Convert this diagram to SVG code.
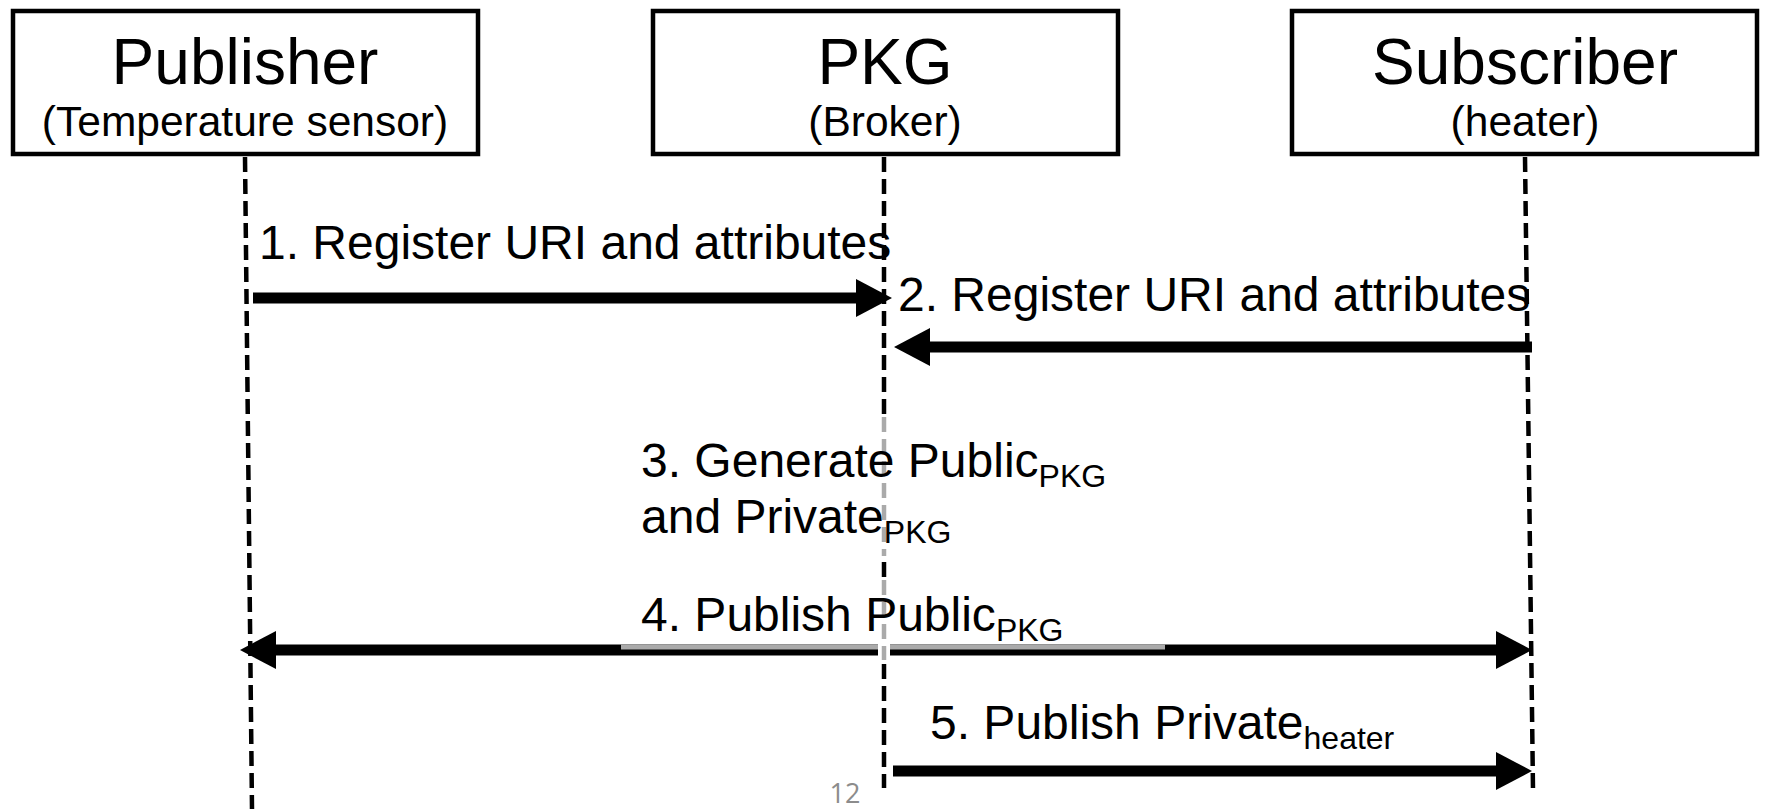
<svg xmlns="http://www.w3.org/2000/svg" width="1766" height="809" viewBox="0 0 1766 809">
  <style>
    .box { fill: #ffffff; stroke: #000000; stroke-width: 4.5; }
    .title { font-family: "Liberation Sans", Arial, sans-serif; font-size: 64px; fill: #000000; text-anchor: middle; }
    .role { font-family: "Liberation Sans", Arial, sans-serif; font-size: 42.5px; fill: #000000; text-anchor: middle; }
    .life { stroke: #000000; stroke-width: 4.5; stroke-dasharray: 15 7; fill: none; }
    .life-dim { stroke: #aaaaaa; stroke-width: 4.5; stroke-dasharray: 15 7; fill: none; }
    .msg { stroke: #000000; stroke-width: 11; fill: none; }
    .label { font-family: "Liberation Sans", Arial, sans-serif; font-size: 48px; fill: #000000; }
    .sub { font-size: 32px; }
    .page { font-family: "Open Sans", "Liberation Sans", sans-serif; font-size: 27px; fill: #8c8c8c; text-anchor: middle; }
  </style>
  <defs>
    <marker id="head" viewBox="0 0 36 38" markerWidth="36" markerHeight="38" refX="1" refY="19" markerUnits="userSpaceOnUse" orient="auto-start-reverse">
      <path d="M0,0 L36,19 L0,38 Z" fill="#000000"/>
    </marker>
  </defs>

  <rect width="1766" height="809" fill="#ffffff"/>

  <!-- lifelines -->
  <g id="lifelines">
    <line class="life" x1="245" y1="157" x2="252" y2="809"/>
    <line class="life" x1="884" y1="157" x2="884" y2="417"/>
    <line class="life-dim" x1="884" y1="417" x2="884" y2="556"/>
    <line class="life" x1="884" y1="562" x2="884" y2="578"/>
    <line class="life-dim" x1="884" y1="580" x2="884" y2="660"/>
    <line class="life" x1="884" y1="664" x2="884" y2="788"/>
    <line class="life" x1="1525" y1="157" x2="1533" y2="790"/>
  </g>

  <!-- participants -->
  <g id="publisher">
    <rect class="box" x="13" y="11" width="465" height="143"/>
    <text class="title" x="245" y="84">Publisher</text>
    <text class="role" x="245" y="136">(Temperature sensor)</text>
  </g>
  <g id="pkg">
    <rect class="box" x="653" y="11" width="465" height="143"/>
    <text class="title" x="885" y="84">PKG</text>
    <text class="role" x="885" y="136">(Broker)</text>
  </g>
  <g id="subscriber">
    <rect class="box" x="1292" y="11" width="465" height="143"/>
    <text class="title" x="1525" y="84">Subscriber</text>
    <text class="role" x="1525" y="136">(heater)</text>
  </g>

  <!-- messages -->
  <g id="connectors">
    <line class="msg" x1="253" y1="298" x2="857" y2="298" marker-end="url(#head)"/>
    <line class="msg" x1="1532" y1="347" x2="929" y2="347" marker-end="url(#head)"/>
    <line class="msg" x1="878" y1="650" x2="275" y2="650" marker-end="url(#head)"/>
    <line class="msg" x1="890" y1="650" x2="1497" y2="650" marker-end="url(#head)"/>
    <line x1="621" y1="647" x2="878" y2="647" stroke="#aaaaaa" stroke-width="5"/>
    <line x1="890" y1="647" x2="1165" y2="647" stroke="#aaaaaa" stroke-width="5"/>
    <line class="msg" x1="893" y1="771" x2="1497" y2="771" marker-end="url(#head)"/>
  </g>

  <!-- message labels -->
  <g id="labels">
    <text class="label" x="259" y="259">1. Register URI and attributes</text>
    <text class="label" x="898" y="311">2. Register URI and attributes</text>
    <text class="label" x="641" y="477">3. Generate Public<tspan class="sub" dy="10">PKG</tspan></text>
    <text class="label" x="641" y="533">and Private<tspan class="sub" dy="10">PKG</tspan></text>
    <text class="label" x="641" y="631">4. Publish Public<tspan class="sub" dy="10">PKG</tspan></text>
    <text class="label" x="930" y="739">5. Publish Private<tspan class="sub" dy="10">heater</tspan></text>
  </g>

  <text class="page" x="845" y="803">12</text>
</svg>
